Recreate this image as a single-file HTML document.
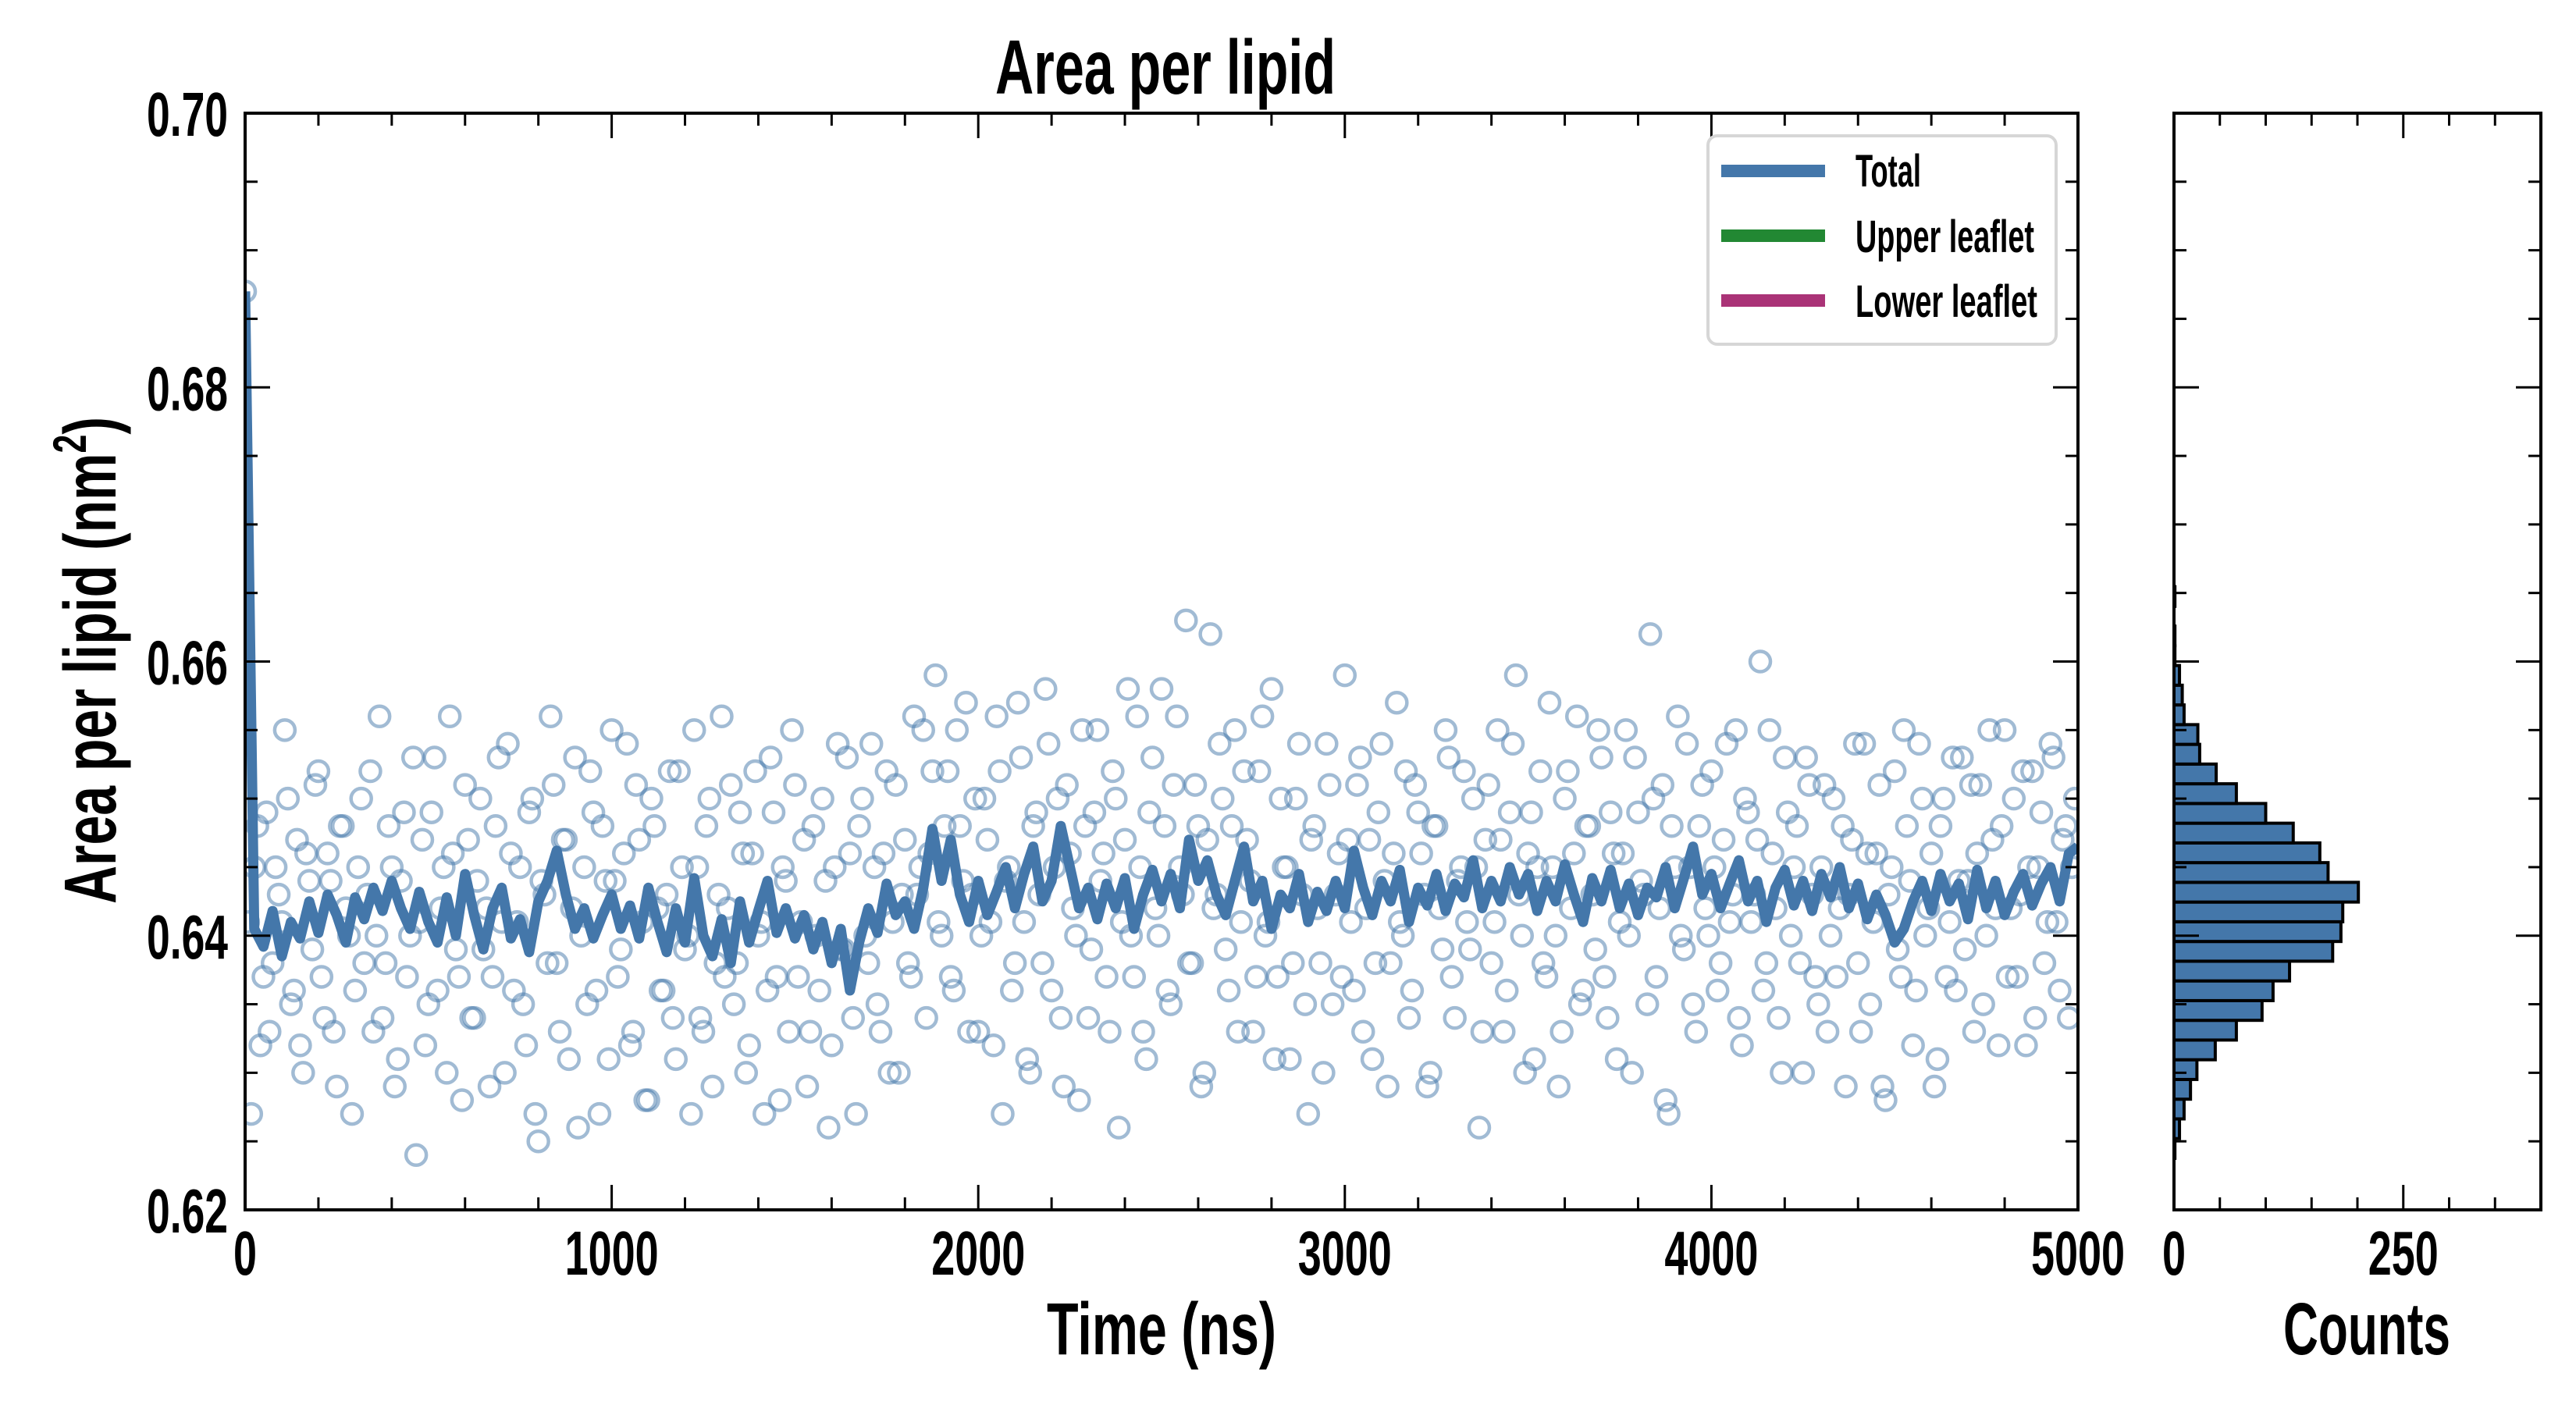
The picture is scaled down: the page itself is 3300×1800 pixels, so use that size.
<!DOCTYPE html>
<html><head><meta charset="utf-8"><style>
html,body{margin:0;padding:0;background:#fff;}
svg{display:block;}
text{font-family:"Liberation Sans Narrow","Liberation Sans",sans-serif;font-weight:bold;fill:#000;}
</style></head><body>
<svg id="chart" width="3300" height="1800" viewBox="0 0 3300 1800" xmlns="http://www.w3.org/2000/svg">
<rect x="0" y="0" width="3300" height="1800" fill="#fff"/>
<g id="main-marks"></g>
<g id="hist-marks"></g>
<g id="axes"></g>
<text x="1493" y="120" font-size="98" text-anchor="middle" textLength="436" lengthAdjust="spacingAndGlyphs">Area per lipid</text>
<text x="1488" y="1735" font-size="95" text-anchor="middle" textLength="294" lengthAdjust="spacingAndGlyphs">Time (ns)</text>
<text x="3032" y="1735" font-size="95" text-anchor="middle" textLength="214" lengthAdjust="spacingAndGlyphs">Counts</text>
<text transform="translate(148,846) rotate(-90)" x="0" y="0" font-size="95" text-anchor="middle" textLength="624" lengthAdjust="spacingAndGlyphs">Area per lipid (nm<tspan font-size="60" dy="-38">2</tspan><tspan dy="38">)</tspan></text>
<g>
<rect x="2188" y="174" width="446" height="267" rx="12" fill="#fff" stroke="#d6d6d6" stroke-width="4"/>
<line x1="2205" y1="219" x2="2338" y2="219" stroke="#4477aa" stroke-width="16"/>
<line x1="2205" y1="302" x2="2338" y2="302" stroke="#228833" stroke-width="16"/>
<line x1="2205" y1="385" x2="2338" y2="385" stroke="#aa3377" stroke-width="16"/>
<text x="2377" y="239" font-size="58" textLength="84" lengthAdjust="spacingAndGlyphs">Total</text>
<text x="2377" y="323" font-size="58" textLength="229" lengthAdjust="spacingAndGlyphs">Upper leaflet</text>
<text x="2377" y="406" font-size="58" textLength="233" lengthAdjust="spacingAndGlyphs">Lower leaflet</text>
</g>
</svg>
<script>
const lineStep = 25;
const lineValues = [
0.6870,0.6405,0.6392,0.6418,0.6385,0.6410,0.6398,0.6425,0.6402,0.6430,0.6415,0.6395,0.6428,0.6412,0.6435,0.6418,0.6440,0.6420,0.6405,0.6432,
0.6410,0.6395,0.6428,0.6400,0.6445,0.6415,0.6390,0.6420,0.6435,0.6398,0.6412,0.6388,0.6425,0.6440,0.6462,0.6430,0.6405,0.6420,0.6398,0.6415,
0.6430,0.6405,0.6422,0.6398,0.6435,0.6410,0.6388,0.6420,0.6395,0.6442,0.6400,0.6385,0.6412,0.6380,0.6425,0.6395,0.6418,0.6440,0.6402,0.6420,
0.6398,0.6415,0.6390,0.6410,0.6380,0.6405,0.6360,0.6395,0.6420,0.6402,0.6438,0.6415,0.6425,0.6405,0.6435,0.6478,0.6440,0.6470,0.6430,0.6410,
0.6440,0.6415,0.6432,0.6450,0.6420,0.6445,0.6465,0.6425,0.6440,0.6480,0.6450,0.6420,0.6435,0.6412,0.6438,0.6420,0.6442,0.6405,0.6430,0.6448,
0.6425,0.6445,0.6420,0.6470,0.6440,0.6455,0.6430,0.6415,0.6440,0.6465,0.6425,0.6440,0.6405,0.6430,0.6420,0.6445,0.6410,0.6432,0.6418,0.6440,
0.6420,0.6462,0.6435,0.6415,0.6440,0.6425,0.6448,0.6410,0.6435,0.6422,0.6445,0.6418,0.6438,0.6428,0.6455,0.6420,0.6440,0.6425,0.6450,0.6430,
0.6445,0.6418,0.6440,0.6425,0.6452,0.6430,0.6410,0.6442,0.6425,0.6448,0.6420,0.6438,0.6415,0.6435,0.6428,0.6450,0.6420,0.6442,0.6465,0.6430,
0.6445,0.6420,0.6438,0.6455,0.6425,0.6440,0.6410,0.6435,0.6448,0.6422,0.6440,0.6418,0.6445,0.6428,0.6450,0.6420,0.6438,0.6412,0.6430,0.6415,
0.6395,0.6405,0.6425,0.6440,0.6418,0.6445,0.6425,0.6438,0.6412,0.6448,0.6420,0.6440,0.6415,0.6432,0.6445,0.6422,0.6438,0.6450,0.6425,0.6460,
0.6465];
const scatterValues = [
0.687,0.627,0.648,0.637,0.633,0.645,0.641,0.650,0.636,0.632,0.646,0.639,0.652,0.634,0.644,0.629,0.648,0.640,0.636,0.650,
0.643,0.633,0.656,0.638,0.645,0.631,0.649,0.640,0.624,0.647,0.635,0.653,0.642,0.630,0.646,0.637,0.651,0.634,0.644,0.639,
0.629,0.648,0.641,0.654,0.636,0.645,0.632,0.650,0.625,0.643,0.656,0.638,0.647,0.631,0.653,0.640,0.635,0.649,0.627,0.644,
0.655,0.637,0.646,0.632,0.651,0.641,0.628,0.648,0.636,0.643,0.634,0.652,0.639,0.627,0.645,0.633,0.650,0.638,0.656,0.642,
0.635,0.649,0.630,0.646,0.640,0.627,0.653,0.637,0.645,0.633,0.651,0.641,0.629,0.648,0.636,0.644,0.632,0.654,0.639,0.646,
0.627,0.650,0.638,0.645,0.633,0.652,0.641,0.630,0.647,0.637,0.643,0.655,0.646,0.659,0.640,0.652,0.636,0.648,0.657,0.643,
0.633,0.650,0.641,0.656,0.627,0.645,0.638,0.653,0.631,0.648,0.643,0.658,0.636,0.650,0.629,0.646,0.640,0.655,0.634,0.649,
0.644,0.637,0.652,0.626,0.647,0.640,0.656,0.633,0.649,0.642,0.658,0.636,0.651,0.645,0.663,0.638,0.648,0.630,0.662,0.643,
0.650,0.636,0.655,0.641,0.647,0.633,0.652,0.640,0.658,0.637,0.645,0.631,0.650,0.643,0.627,0.648,0.638,0.654,0.635,0.646,
0.659,0.641,0.651,0.633,0.647,0.638,0.654,0.629,0.646,0.641,0.652,0.636,0.649,0.643,0.630,0.648,0.639,0.653,0.634,0.645,
0.641,0.650,0.626,0.647,0.638,0.655,0.633,0.649,0.659,0.640,0.646,0.631,0.652,0.637,0.645,0.629,0.650,0.642,0.656,0.636,
0.648,0.639,0.653,0.634,0.646,0.641,0.655,0.630,0.649,0.643,0.662,0.637,0.651,0.627,0.645,0.640,0.654,0.635,0.648,0.642,
0.652,0.636,0.647,0.641,0.655,0.632,0.649,0.643,0.660,0.638,0.646,0.634,0.653,0.640,0.648,0.630,0.651,0.637,0.645,0.633,
0.650,0.642,0.629,0.647,0.638,0.654,0.635,0.646,0.629,0.643,0.652,0.637,0.648,0.632,0.654,0.640,0.646,0.631,0.650,0.641,
0.636,0.653,0.644,0.633,0.651,0.640,0.647,0.632,0.655,0.642,0.637,0.652,0.645,0.634,0.649,0.641,0.653,0.636,0.648,0.645];
const scatterValuesB = [
0.641,0.645,0.632,0.649,0.638,0.643,0.655,0.635,0.647,0.630,0.644,0.651,0.637,0.646,0.633,0.648,0.642,0.627,0.645,0.638,
0.652,0.640,0.634,0.648,0.629,0.644,0.637,0.653,0.641,0.632,0.649,0.636,0.645,0.656,0.639,0.628,0.647,0.634,0.650,0.642,
0.637,0.653,0.630,0.646,0.641,0.635,0.649,0.627,0.644,0.638,0.651,0.633,0.647,0.642,0.626,0.645,0.652,0.636,0.648,0.631,
0.644,0.639,0.654,0.633,0.647,0.628,0.650,0.642,0.636,0.652,0.631,0.645,0.640,0.655,0.634,0.648,0.629,0.643,0.637,0.651,
0.638,0.646,0.632,0.652,0.641,0.636,0.649,0.628,0.644,0.655,0.637,0.647,0.633,0.640,0.650,0.626,0.645,0.639,0.653,0.634,
0.648,0.640,0.654,0.635,0.646,0.630,0.651,0.643,0.638,0.656,0.645,0.634,0.652,0.641,0.648,0.637,0.655,0.644,0.633,0.650,
0.640,0.647,0.632,0.652,0.644,0.636,0.657,0.641,0.630,0.649,0.638,0.654,0.645,0.634,0.651,0.642,0.628,0.648,0.639,0.655,
0.646,0.633,0.650,0.641,0.658,0.637,0.645,0.631,0.653,0.640,0.648,0.635,0.656,0.643,0.638,0.651,0.629,0.647,0.642,0.654,
0.639,0.648,0.633,0.652,0.644,0.637,0.656,0.641,0.631,0.650,0.645,0.638,0.654,0.635,0.647,0.642,0.630,0.651,0.643,0.637,
0.647,0.636,0.653,0.642,0.631,0.649,0.644,0.638,0.657,0.640,0.634,0.651,0.646,0.629,0.648,0.642,0.655,0.637,0.644,0.652,
0.639,0.645,0.633,0.651,0.641,0.647,0.636,0.654,0.643,0.630,0.649,0.645,0.638,0.657,0.640,0.633,0.652,0.646,0.635,0.648,
0.643,0.655,0.637,0.649,0.631,0.646,0.640,0.653,0.644,0.635,0.650,0.642,0.628,0.648,0.656,0.639,0.645,0.633,0.651,0.640,
0.645,0.638,0.654,0.643,0.634,0.650,0.641,0.647,0.636,0.655,0.642,0.630,0.649,0.645,0.638,0.653,0.643,0.635,0.651,0.640,
0.637,0.648,0.643,0.654,0.633,0.646,0.641,0.651,0.628,0.645,0.639,0.655,0.644,0.636,0.650,0.642,0.629,0.648,0.637,0.653,
0.644,0.639,0.651,0.646,0.635,0.655,0.642,0.648,0.637,0.650,0.643,0.632,0.652,0.645,0.638,0.654,0.641,0.647,0.634,0.650];
const histStart = 0.62376;
const histBinWidth = 0.001438;
const histCounts = [1,6,11,18,25,45,68,96,108,126,173,182,184,201,168,159,130,100,68,46,28,26,11,9,6,1,1,0,1];
const xTickLabels = ["0","1000","2000","3000","4000","5000"];
const yTickLabels = ["0.62","0.64","0.66","0.68","0.70"];
const histTickLabels = ["0","250"];

const NS = "http://www.w3.org/2000/svg";
const X0 = 314, X1 = 2662, Y0 = 1550, Y1 = 145, H0 = 2785, H1 = 3255;
const xMin = 0, xMax = 5000, yMin = 0.62, yMax = 0.70, cMax = 400;
function sx(t){ return X0 + (t - xMin) / (xMax - xMin) * (X1 - X0); }
function sy(v){ return Y0 - (v - yMin) / (yMax - yMin) * (Y0 - Y1); }
function sc(c){ return H0 + c / cMax * (H1 - H0); }
function mk(tag, attrs, parent){ const e = document.createElementNS(NS, tag); for (const k in attrs) e.setAttribute(k, attrs[k]); parent.appendChild(e); return e; }

const mainG = document.getElementById('main-marks');
const clip = mk('clipPath', {id:'mclip'}, mainG);
mk('rect', {x:X0, y:Y1, width:X1-X0, height:Y0-Y1}, clip);
const scG = mk('g', {'clip-path':'url(#mclip)'}, mainG);


function drawScatter(vals, offset){
  const step = xMax / vals.length;
  vals.forEach((v, i) => {
    const c = mk('circle', {cx: sx(i * step + offset * step), cy: sy(v), r: 13, fill: 'none', stroke: '#4477aa', 'stroke-opacity': 0.5, 'stroke-width': 4.5}, scG);
    
    
  });
}
drawScatter(scatterValues, 0);
drawScatter(scatterValuesB, 0.5);
const pts = lineValues.map((v, i) => sx(i * lineStep).toFixed(1) + ',' + sy(v).toFixed(1)).join(' ');
const pl = mk('polyline', {points: pts, fill: 'none', stroke: '#4477aa', 'stroke-width': 13, 'stroke-linejoin': 'round', 'clip-path':'url(#mclip)'}, mainG);



const histG = document.getElementById('hist-marks');
histCounts.forEach((c, i) => {
  if (c <= 0) return;
  const lo = histStart + i * histBinWidth, hi = lo + histBinWidth;
  const r = mk('rect', {x: sc(0), y: sy(hi), width: sc(c) - sc(0), height: sy(lo) - sy(hi), fill: '#4477aa', stroke: '#000', 'stroke-width': 4}, histG);
  
  
});

const ax = document.getElementById('axes');
function frame(x0, x1, name){
  const r = mk('rect', {x: x0, y: Y1, width: x1 - x0, height: Y0 - Y1, fill: 'none', stroke: '#000', 'stroke-width': 4}, ax);
  
  
}
frame(X0, X1, 'main-axes-frame');
frame(H0, H1, 'hist-axes-frame');
function tick(x1, y1, x2, y2){ mk('line', {x1, y1, x2, y2, stroke: '#000', 'stroke-width': 3}, ax); }
for (let t = 0; t <= xMax; t += 200) {
  const L = (t % 1000 === 0) ? 32 : 16, x = sx(t);
  tick(x, Y0, x, Y0 - L); tick(x, Y1, x, Y1 + L);
}
for (let k = 0; k <= 16; k++) {
  const v = yMin + k * 0.005, y = sy(v), L = (k % 4 === 0) ? 32 : 16;
  tick(X0, y, X0 + L, y); tick(X1, y, X1 - L, y);
  tick(H0, y, H0 + L, y); tick(H1, y, H1 - L, y);
}
for (let c = 0; c <= cMax; c += 50) {
  const L = (c % 250 === 0) ? 32 : 16, x = sc(c);
  tick(x, Y0, x, Y0 - L); tick(x, Y1, x, Y1 + L);
}
function label(txt, x, y, anchor, w, name){
  const t = mk('text', {x, y, 'font-size': 80, 'text-anchor': anchor, textLength: w, lengthAdjust: 'spacingAndGlyphs'}, ax);
  t.textContent = txt;
  
  
}
xTickLabels.forEach((s, i) => label(s, sx(i * 1000), 1633, 'middle', s.length * 30, 'x-tick-label'));
yTickLabels.forEach((s, i) => label(s, 292, sy(0.62 + i * 0.02) + 29, 'end', 104, 'y-tick-label'));
histTickLabels.forEach((s, i) => label(s, sc(i * 250), 1633, 'middle', s.length * 30, 'hist-x-tick-label'));
</script>
</body></html>
